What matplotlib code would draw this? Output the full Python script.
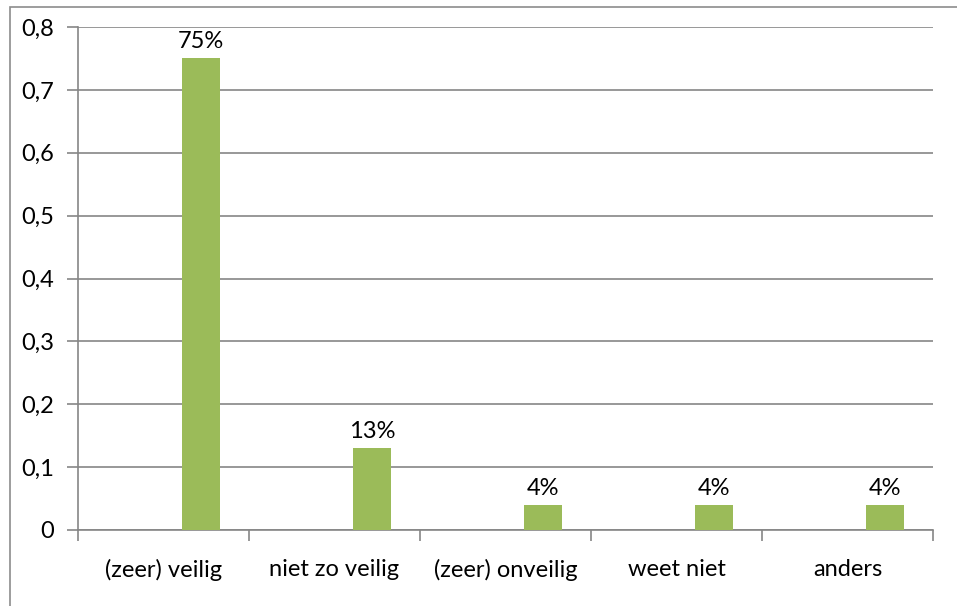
import matplotlib
matplotlib.use("Agg")
import matplotlib.pyplot as plt
import matplotlib.patches as mpatches
import numpy as np

categories = ["(zeer) veilig", "niet zo veilig", "(zeer) onveilig", "weet niet", "anders"]
values = [0.75, 0.13, 0.04, 0.04, 0.04]
labels = ["75%", "13%", "4%", "4%", "4%"]
yticks = [0, 0.1, 0.2, 0.3, 0.4, 0.5, 0.6, 0.7, 0.8]
ytick_labels = ["0", "0,1", "0,2", "0,3", "0,4", "0,5", "0,6", "0,7", "0,8"]

plt.rcParams['font.family'] = ['Lato', 'DejaVu Sans']
fs = 17

W, H = 957, 606
fig = plt.figure(figsize=(W / 100, H / 100), dpi=100)
ax = fig.add_axes([78 / W, 1 - 530 / H, (933 - 78) / W, (530 - 27) / H])

# frame around chart (runs off the picture at right and bottom)
fig.patches.append(mpatches.Rectangle((10 / W, -0.1), 1.2, 1 - 7 / H + 0.1,
                                      transform=fig.transFigure, fill=False,
                                      edgecolor="#8c8c8c", linewidth=1.2))

x = np.arange(len(categories))
ax.bar(x + 0.22, values, width=0.22, color="#9BBB59", zorder=3)
for xi, v, lab in zip(x, values, labels):
    ax.text(xi + 0.22, v + 0.01, lab, ha="center", va="bottom", fontsize=fs)

ax.set_xlim(-0.5, len(categories) - 0.5)
ax.set_ylim(0, 0.8)
ax.set_yticks(yticks)
ax.set_yticklabels(ytick_labels, fontsize=fs)
ax.yaxis.grid(True, color="#868686", linewidth=1.2, zorder=0)
ax.set_axisbelow(True)

ax.set_xticks(np.arange(-0.5, len(categories)))
ax.set_xticklabels([])
ax.set_xticks(x, minor=True)
ax.set_xticklabels(categories, minor=True, fontsize=fs)
ax.tick_params(axis="x", which="major", length=8, color="#868686", width=1.2, direction="out")
ax.tick_params(axis="x", which="minor", length=0, pad=21)
ax.tick_params(axis="y", length=8, color="#868686", width=1.2, pad=9)

for s in ["top", "right"]:
    ax.spines[s].set_visible(False)
for s in ["left", "bottom"]:
    ax.spines[s].set_color("#868686")
    ax.spines[s].set_linewidth(1.2)

fig.savefig("out.png", dpi=100)
